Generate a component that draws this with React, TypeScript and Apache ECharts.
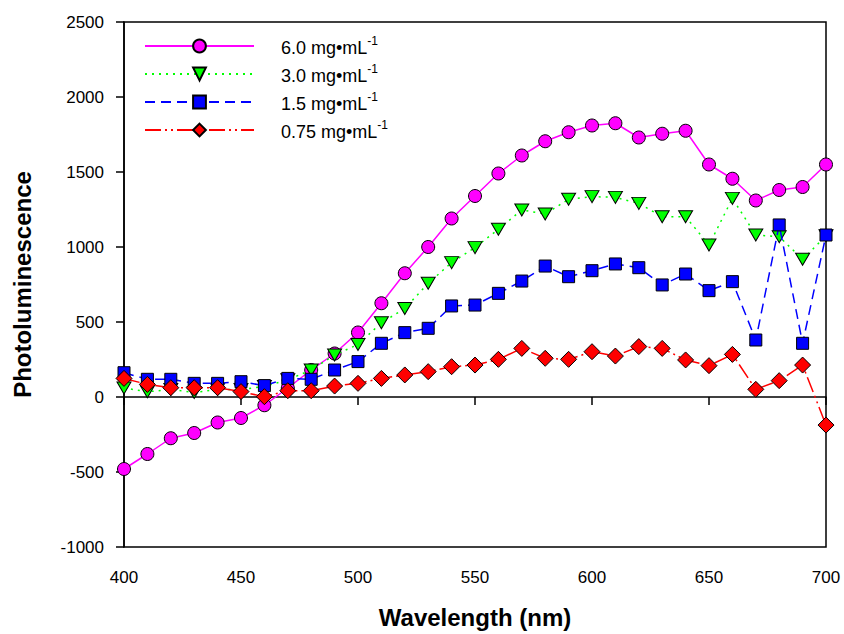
import React, { useEffect, useRef } from "react";
import * as echarts from "echarts";

const wavelengths = [400, 410, 420, 430, 440, 450, 460, 470, 480, 490, 500, 510, 520, 530, 540, 550, 560, 570, 580, 590, 600, 610, 620, 630, 640, 650, 660, 670, 680, 690, 700];

const conc60 = [-480, -380, -275, -240, -170, -140, -55, 60, 180, 290, 430, 625, 825, 1000, 1190, 1340, 1490, 1610, 1705, 1765, 1810, 1825, 1730, 1755, 1775, 1550, 1455, 1310, 1380, 1400, 1550];
const conc30 = [60, 35, 50, 30, 50, 50, 70, 115, 180, 280, 350, 495, 590, 758, 896, 996, 1118, 1247, 1220, 1318, 1336, 1331, 1291, 1202, 1202, 1013, 1324, 1080, 1069, 918, 1075];
const conc15 = [162, 118, 118, 91, 91, 102, 76, 124, 118, 180, 236, 358, 429, 458, 607, 613, 691, 773, 873, 802, 842, 887, 862, 747, 820, 709, 769, 380, 1147, 358, 1080];
const conc075 = [124, 84, 62, 62, 62, 36, 2, 42, 42, 73, 91, 124, 147, 169, 202, 213, 251, 324, 258, 251, 302, 273, 336, 324, 247, 209, 284, 51, 109, 213, -187];

const seriesNames = ["6.0 mg•mL", "3.0 mg•mL", "1.5 mg•mL", "0.75 mg•mL"];
const xTicks = { min: 400, max: 700, interval: 50 };
const yTicks = { min: -1000, max: 2500, interval: 500 };

const FONT = "'Liberation Sans', Arial, sans-serif";

export default function App() {
  const ref = useRef<HTMLDivElement>(null);
  useEffect(() => {
    if (!ref.current) return;
    const chart = echarts.init(ref.current, null, { renderer: "svg" });
    const pair = (arr: number[]) => wavelengths.map((w, i) => [w, arr[i]]);
    const defs = [
      { data: conc60, color: "#FF00FF", symbol: "circle", size: 13, rotate: 0, dash: "solid" as any },
      { data: conc30, color: "#00FF00", symbol: "triangle", size: [14, 12], rotate: 180, dash: [2, 5] },
      { data: conc15, color: "#0000FF", symbol: "rect", size: 12, rotate: 0, dash: [10, 6] },
      { data: conc075, color: "#FF0000", symbol: "diamond", size: 16, rotate: 0, dash: [16, 4, 2, 4, 2, 4] },
    ];
    chart.setOption({
      animation: false,
      backgroundColor: "#ffffff",
      textStyle: { fontFamily: FONT },
      grid: {
        left: 124,
        right: 18,
        top: 22,
        bottom: 87,
        show: true,
        borderColor: "#000",
        borderWidth: 1.5,
        backgroundColor: "transparent",
      },
      legend: {
        orient: "vertical",
        left: 144,
        top: 35,
        padding: 0,
        itemWidth: 109,
        itemHeight: 16,
        itemGap: 6,
        data: seriesNames,
        formatter: (name: string) => `{a|${name}}{s|-1}`,
        textStyle: {
          fontFamily: FONT,
          color: "#000",
          rich: {
            a: { fontSize: 18, lineHeight: 22, padding: [0, 0, 0, 22], color: "#000", fontFamily: FONT, verticalAlign: "bottom" },
            s: { fontSize: 12, lineHeight: 12, color: "#000", fontFamily: FONT, verticalAlign: "top" },
          },
        },
      },
      xAxis: {
        type: "value",
        min: xTicks.min,
        max: xTicks.max,
        interval: xTicks.interval,
        name: "Wavelength (nm)",
        nameLocation: "middle",
        nameGap: 58,
        nameTextStyle: { fontSize: 24, fontWeight: "bold", color: "#000", fontFamily: FONT },
        axisLine: { show: true, lineStyle: { color: "#000", width: 1.5 } },
        axisTick: { show: true, length: 8, inside: false, lineStyle: { color: "#000", width: 1.5 } },
        axisLabel: { fontSize: 17, color: "#000", margin: 22, fontFamily: FONT, formatter: (v: number) => String(v) },
        splitLine: { show: false },
      },
      yAxis: {
        type: "value",
        min: yTicks.min,
        max: yTicks.max,
        interval: yTicks.interval,
        name: "Photoluminescence",
        nameLocation: "middle",
        nameGap: 90,
        nameRotate: 90,
        nameTextStyle: { fontSize: 24, fontWeight: "bold", color: "#000", fontFamily: FONT },
        axisLine: { show: true, lineStyle: { color: "#000", width: 1.5 } },
        axisTick: { show: true, length: 8, inside: false, lineStyle: { color: "#000", width: 1.5 } },
        axisLabel: { fontSize: 17, color: "#000", margin: 20, fontFamily: FONT, formatter: (v: number) => String(v) },
        splitLine: { show: false },
      },
      series: defs.map((d, i) => ({
        name: seriesNames[i],
        type: "line",
        data: pair(d.data),
        symbol: d.symbol,
        symbolSize: d.size,
        symbolRotate: d.rotate,
        showAllSymbol: true,
        z: 2 + i,
        lineStyle: { color: d.color, width: 1.5, type: d.dash },
        itemStyle: { color: d.color, borderColor: "#000", borderWidth: 1 },
        emphasis: { disabled: true },
      })),
    });
    return () => chart.dispose();
  }, []);
  return <div ref={ref} style={{ width: 844, height: 634, position: "absolute", left: 0, top: 0 }} />;
}
